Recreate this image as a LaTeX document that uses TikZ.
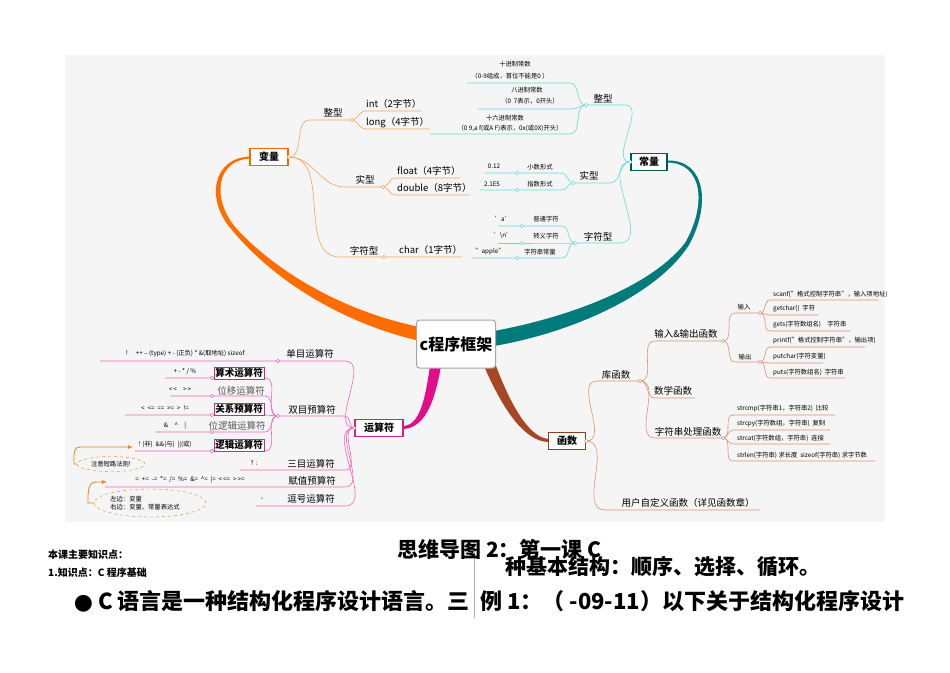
\documentclass[tikz,border=0pt]{standalone}
\usepackage{fontspec}
\usetikzlibrary{shapes.geometric}
\setmainfont{Noto Sans CJK SC}
\begin{document}
\begin{tikzpicture}[x=1pt,y=-1pt,
  lab/.style={inner sep=0pt,font=\fontsize{9.5}{10}\selectfont},
  sm/.style={inner sep=0pt,font=\fontsize{6.3}{7.5}\selectfont},
  oc/.style={draw=orange!70!brown!70,line width=0.6pt},
  tc/.style={draw=teal!50!cyan!60,line width=0.6pt},
  mc/.style={draw=magenta!60,line width=0.6pt},
  bc/.style={draw=brown!80!red!70,line width=0.6pt},
  dot/.style={circle,draw,fill=white,inner sep=0pt,minimum size=3.5pt},
  boxn/.style={draw,line width=1.2pt,inner sep=2pt,minimum height=17pt,font=\fontsize{10}{12}\selectfont\bfseries,fill=white}]
\useasboundingbox (0,0) rectangle (950,672);
\fill[white] (0,0) rectangle (950,672);
\fill[gray!8] (65,55) rectangle (885,522);
% thick branches
\fill[orange!85!red] (252,156.5) .. controls (212,156.5) and (205,200) .. (232,230) .. controls (275,282) and (345,324) .. (420,341) -- (420,327) .. controls (350,313) and (280,276) .. (236,228) .. controls (211,199) and (216,158.5) .. (252,158.5) -- cycle;
\fill[teal!80!cyan!80!black] (667,160.5) .. controls (706,159.5) and (711,205) .. (689,245) .. controls (656,296) and (570,333) .. (494,346) -- (494,331) .. controls (565,318) and (650,288) .. (685,243) .. controls (707,205) and (703,162.5) .. (667,162.5) -- cycle;
\fill[magenta!90!violet] (430,366) .. controls (425,400) and (420,424) .. (404,426) -- (404,429) .. controls (426,427) and (435,400) .. (441,366) -- cycle;
\fill[brown!70!red!80!black] (484,366) .. controls (503,410) and (525,442) .. (549,442) -- (549,439) .. controls (530,438) and (512,408) .. (496,366) -- cycle;
% center
\node[draw=gray!70,rounded corners=3pt,line width=1pt,fill=white,minimum width=79pt,minimum height=48pt,inner sep=0pt,font=\fontsize{16}{18}\selectfont\bfseries] (c) at (456,344) {c程序框架};
\node[boxn,draw=orange!80!red,minimum width=38pt] (var) at (269,157) {变量};
\node[boxn,draw=teal!70!black,minimum width=36pt] (con) at (649,162) {常量};
\node[boxn,draw=magenta!70!violet,minimum width=48pt] (op) at (379,428) {运算符};
\node[boxn,draw=brown!70!red!70!black,minimum width=37pt] (fn) at (567,441) {函数};

% ===== 变量 =====
\coordinate (vr) at (var.east);
\node[lab] (vz) at (333,113) {整型};
\draw[oc] (vr) to[out=0,in=180] (310,120) -- (352,120);
\draw[oc] (352,120) to[out=0,in=180] (365,111) -- (421,111);
\draw[oc] (352,120) to[out=0,in=180] (365,129) -- (430,129);
\node[lab,anchor=west] at (366,104) {int（2字节）};
\node[lab,anchor=west] at (366,123) {long（4字节）};
\node[dot,draw=orange!70!brown!70] at (352,120) {};
\node[lab] (vs) at (365,180) {实型};
\draw[oc] (vr) to[out=0,in=180] (345,187) -- (383,187);
\draw[oc] (383,187) to[out=0,in=180] (395,178) -- (460,178);
\draw[oc] (383,187) to[out=0,in=180] (395,195) -- (470,195);
\node[lab,anchor=west] at (397,171) {float（4字节）};
\node[lab,anchor=west] at (397,188) {double（8字节）};
\node[dot,draw=orange!70!brown!70] at (383,187) {};
\node[lab] (vc) at (364,251) {字符型};
\draw[oc] (vr) to[out=0,in=180] (340,257) -- (462,257);
\node[lab,anchor=west] at (399,250) {char（1字节）};
\node[dot,draw=orange!70!brown!70] at (384,257) {};
\node[dot,draw=orange!70!brown!70] at (vr) {};

% ===== 常量 =====
\coordinate (cl) at (con.west);
\node[lab] at (603,99) {整型};
\draw[tc] (cl) to[out=180,in=0] (625,105) -- (586,105);
\draw[tc] (586,105) to[out=180,in=0] (570,83) -- (467,83);
\draw[tc] (586,105) to[out=180,in=0] (572,109) -- (478,109);
\draw[tc] (586,105) to[out=180,in=0] (570,134) -- (430,134);
\node[sm] at (515,64) {十进制常数};
\node[sm] at (510,76) {（0-9组成，首位不能是0 ）};
\node[sm] at (527,90) {八进制常数};
\node[sm] at (530,101) {（0~ 7表示，0开头）};
\node[sm] at (505,118) {十六进制常数};
\node[sm] at (510,128) {（0~9,a~f(或A~F)表示，0x(或0X)开头）};
\node[dot,draw=teal!50!cyan!60] at (586,105) {};
\node[lab] at (589,176) {实型};
\draw[tc] (cl) to[out=180,in=0] (610,183) -- (573,183);
\draw[tc] (573,183) to[out=180,in=0] (562,173) -- (485,173);
\draw[tc] (573,183) to[out=180,in=0] (562,190) -- (480,190);
\node[sm] at (494,166) {0.12}; \node[sm] at (540,167) {小数形式};
\node[sm] at (492,184) {2.1E5}; \node[sm] at (540,184) {指数形式};
\node[dot,draw=teal!50!cyan!60] at (517,173) {};
\node[dot,draw=teal!50!cyan!60] at (517,190) {};
\node[dot,draw=teal!50!cyan!60] at (573,183) {};
\node[lab] at (598,237) {字符型};
\draw[tc] (cl) to[out=180,in=0] (620,243) -- (575,243);
\draw[tc] (575,243) to[out=180,in=0] (562,226) -- (498,226);
\draw[tc] (575,243) to[out=180,in=0] (562,243) -- (498,243);
\draw[tc] (575,243) to[out=180,in=0] (562,258) -- (472,258);
\node[sm] at (503,219) {'a'}; \node[sm] at (546,219) {普通字符};
\node[sm] at (503,235) {'\textbackslash n'}; \node[sm] at (546,236) {转义字符};
\node[sm] at (490,252) {"apple"}; \node[sm] at (540,252) {字符串常量};
\node[dot,draw=teal!50!cyan!60] at (522,226) {};
\node[dot,draw=teal!50!cyan!60] at (522,243) {};
\node[dot,draw=teal!50!cyan!60] at (517,258) {};
\node[dot,draw=teal!50!cyan!60] at (575,243) {};
\node[dot,draw=teal!50!cyan!60] at (cl) {};

% ===== 运算符 =====
\coordinate (ol) at (op.west);
\draw[mc] (ol) to[out=180,in=0] (345,361) -- (100,361);
\node[lab] at (310,354) {单目运算符};
\node[sm] at (185,354) {！ ~ ++ -- (type) + - (正负) * \&(取地址) sizeof};
\draw[mc] (ol) to[out=180,in=0] (345,416) -- (278,416);
\node[lab] at (312,410) {双目预算符};
\foreach \yy/\xs in {378/165,396/170,415/125,432/155,451/135}
  \draw[mc] (278,416) to[out=180,in=0] (265,\yy) -- (\xs,\yy);
\node[lab,draw=magenta!60!violet,inner sep=1.5pt,fill=white] at (239,373) {\bfseries 算术运算符};
\node[lab,text=gray!70!black] at (241,391) {位移运算符};
\node[lab,draw=magenta!60!violet,inner sep=1.5pt,fill=white] at (239,409) {\bfseries 关系预算符};
\node[lab,text=gray!70!black] at (237,426) {位逻辑运算符};
\node[lab,draw=magenta!60!violet,inner sep=1.5pt,fill=white] at (239,445) {\bfseries 逻辑运算符};
\node[sm] at (185,372) {+ - * / \%};
\node[sm] at (180,390) {<\kern1pt<\quad >\kern1pt>};
\node[sm] at (165,408) {<\ \ <=\ \ ==\ \ >=\ \ >\ \ !=};
\node[sm] at (175,426) {\&\quad \^{}\quad |};
\node[sm] at (165,445) {! (非)\ \ \&\&(与)\ \ ||(或)};
\foreach \yy in {378,396,415,432,451} \node[dot,draw=magenta!60] at (212,\yy) {};
\node[dot,draw=magenta!60] at (278,416) {};
\node[dot,draw=magenta!60] at (278,361) {};
\node[ellipse,draw=orange!70!brown,dashed,inner sep=0pt,minimum width=68pt,minimum height=15pt] (e1) at (111,464) {};
\node[sm] at (111,464) {注意短路法则!};
\draw[orange!70!brown,line width=0.8pt,-{latex}] (e1.west) -- (74,464) to[out=90,in=180] (80,447) -- (133,447);
\draw[mc] (ol) to[out=180,in=0] (345,470) -- (240,470);
\node[lab] at (311,464) {三目运算符};
\node[sm] at (254,463) {? :};
\draw[mc] (ol) to[out=180,in=0] (345,487) -- (105,487);
\node[lab] at (312,481) {赋值预算符};
\node[sm] at (190,480) {=\ \ +=\ \ -=\ \ *=\ \ /=\ \ \%=\ \ \&=\ \ \^{}=\ \ |=\ \ <\kern1pt<=\ \ >\kern1pt>=};
\node[ellipse,draw=orange!70!brown,dashed,minimum width=112pt,minimum height=28pt] (e2) at (150,503) {};
\node[sm,align=left] at (145,503) {左边：变量\\右边：变量、常量表达式};
\draw[orange!70!brown,line width=0.8pt,-{latex}] (e2.west) -- (88,503) to[out=90,in=180] (96,482) -- (107,482);
\draw[mc] (ol) to[out=180,in=0] (345,506) -- (256,506);
\node[lab] at (311,499) {逗号运算符};
\node[sm] at (262,499) {,};
\node[dot,draw=magenta!60] at (ol) {};

% ===== 函数 =====
\coordinate (fr) at (fn.east);
\draw[bc] (fr) to[out=0,in=180] (597,381) -- (640,381);
\node[lab] at (616,375) {库函数};
\draw[bc] (640,381) to[out=0,in=180] (655,341) -- (723,341);
\node[lab] at (686,334) {输入\&输出函数};
\draw[bc] (723,341) to[out=0,in=180] (735,313) -- (760,313);
\node[sm] at (744,307) {输入};
\draw[bc] (723,341) to[out=0,in=180] (735,362) -- (760,362);
\node[sm] at (745,357) {输出};
\foreach \yy/\xe in {300/878,315/818,331/850} \draw[bc] (760,313) to[out=0,in=180] (770,\yy) -- (\xe,\yy);
\foreach \yy/\xe in {347/865,363/823,378/845} \draw[bc] (760,362) to[out=0,in=180] (770,\yy) -- (\xe,\yy);
\node[sm,anchor=west] at (773,294) {scanf("格式控制字符串"，输入项地址)};
\node[sm,anchor=west] at (773,309) {getchar()\ \ 字符};
\node[sm,anchor=west] at (773,325) {gets(字符数组名)\quad 字符串};
\node[sm,anchor=west] at (773,341) {printf("格式控制字符串"，输出项)};
\node[sm,anchor=west] at (773,357) {putchar(字符变量)};
\node[sm,anchor=west] at (773,373) {puts(字符数组名)\ \ 字符串};
\draw[bc] (640,381) to[out=0,in=180] (655,398) -- (695,398);
\node[lab] at (673,391) {数学函数};
\draw[bc] (640,381) to[out=0,in=180] (655,438) -- (723,438);
\node[lab] at (688,432) {字符串处理函数};
\foreach \yy/\xe in {415/835,430/830,444/830,461/875} \draw[bc] (723,438) to[out=0,in=180] (733,\yy) -- (\xe,\yy);
\node[sm,anchor=west] at (737,409) {strcmp(字符串1，字符串2)\ \ 比较};
\node[sm,anchor=west] at (737,424) {strcpy(字符数组，字符串)\ \ 复制};
\node[sm,anchor=west] at (737,438) {strcat(字符数组，字符串)\ \ 连接};
\node[sm,anchor=west] at (737,455) {strlen(字符串) 求长度\ \ sizeof(字符串) 求字节数};
\draw[bc] (fr) to[out=0,in=180] (605,510) -- (760,510);
\node[lab] at (688,503) {用户自定义函数（详见函数章）};
\foreach \p in {(640,381),(723,341),(760,313),(760,362),(723,438)} \node[dot,draw=brown!80!red!70] at \p {};
\node[dot,draw=brown!80!red!70] at (fr) {};

% ===== bottom text =====
\node[inner sep=0pt,anchor=west,font=\fontsize{10}{12}\selectfont\bfseries] (t1) at (48,555) {本课主要知识点：};
\node[inner sep=0pt,anchor=west,font=\fontsize{10}{12}\selectfont\bfseries] (t2) at (48,573) {1.知识点：C 程序基础};
\draw[gray!60,line width=0.5pt] (474,540) -- (474,618);
\node[inner sep=0pt,anchor=west,font=\fontsize{21}{23}\selectfont\bfseries] (t3) at (397,549) {思维导图 2：第一课 C};
\node[inner sep=0pt,anchor=west,font=\fontsize{21}{23}\selectfont\bfseries] (t4) at (505,567) {种基本结构：顺序、选择、循环。};
\node[inner sep=0pt,anchor=east,font=\fontsize{22}{24}\selectfont\bfseries] (t5) at (470,601) {{\fontspec{DejaVu Sans}●} C 语言是一种结构化程序设计语言。三};
\node[inner sep=0pt,anchor=west,font=\fontsize{22}{24}\selectfont\bfseries] (t6) at (480,601) {例 1：（ -09-11）以下关于结构化程序设计};
\end{tikzpicture}
\end{document}
